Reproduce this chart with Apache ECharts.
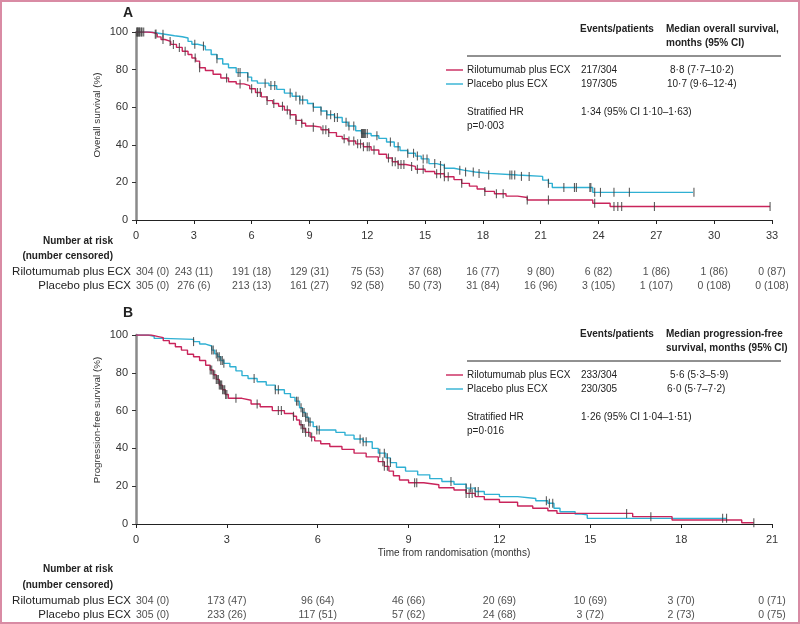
<!DOCTYPE html>
<html><head><meta charset="utf-8">
<script src="https://cdn.jsdelivr.net/npm/echarts@6/dist/echarts.min.js"></script>
<style>
html,body{margin:0;padding:0;background:#fff}
#c{position:absolute;left:0;top:0;width:800px;height:624px}
#f{position:absolute;left:0;top:0;width:800px;height:624px;box-sizing:border-box;border:2px solid #d98ba4;pointer-events:none}
</style>
</head><body><div id="c"></div><div id="f"></div>
<script>
// ---------- data ----------
const groups = ['Rilotumumab plus ECX', 'Placebo plus ECX'];

// Panel A: overall survival, [months, %]
const riloOS = [[0,100],[0.6,99.7],[0.9,99],[1.1,97.4],[1.3,96],[1.5,95],[1.8,93.4],[2.1,91.8],[2.4,89.8],[2.7,88],[2.9,86.2],[3.1,84.5],[3.3,81],[3.6,79.5],[4.0,77.5],[4.4,75.5],[4.8,73.5],[5.2,72.4],[5.6,71.5],[5.9,69.8],[6.2,67.8],[6.5,65.5],[6.8,63.5],[7.1,62],[7.4,60.5],[7.7,58.5],[8.0,56],[8.3,53],[8.6,51.5],[8.8,50],[9.2,49.4],[9.6,48],[10.0,46.5],[10.4,44.5],[10.7,43.2],[11.0,42],[11.4,40.5],[11.8,39],[12.2,37.2],[12.6,35],[13.0,33],[13.3,31],[13.6,29.5],[14.0,28.5],[14.5,27],[15.0,25.8],[15.5,24.6],[16.0,23],[16.5,21.5],[16.9,19.5],[17.3,18],[17.7,16.5],[18.1,15.2],[18.6,14],[19.2,12.7],[19.8,12],[20.3,10.6],[23.7,8.9],[24.6,7.2],[32.9,7.2]];
const placeboOS = [[0,100],[0.7,99.6],[1.0,98.8],[1.5,98],[2.0,97.5],[2.4,96.8],[2.7,95],[2.9,93.5],[3.2,92.5],[3.6,90.5],[3.9,88],[4.2,85.8],[4.5,83],[4.8,81],[5.2,78.4],[5.8,76],[6.0,74],[6.3,72.8],[6.9,71.5],[7.3,69.5],[7.7,67.5],[8.1,65.8],[8.5,63.8],[8.9,62],[9.2,60],[9.6,58],[9.9,56],[10.3,54.5],[10.7,52],[11.0,50],[11.4,47.5],[11.7,46],[12.2,44.8],[12.6,43.4],[13.0,41.5],[13.4,39],[13.7,37],[14.1,35.5],[14.5,34],[14.8,32.5],[15.2,30],[15.6,29],[16.0,27.5],[16.5,26.5],[17.0,25.5],[17.6,24.8],[18.3,23.9],[19.8,23.2],[21.1,21.2],[21.4,19.5],[21.6,17.3],[23.7,14.7],[28.9,14.7]];
const riloOSCensor = [0.05,0.1,0.15,0.2,0.3,1.04,1.4,1.77,1.94,2.25,2.55,3.07,3.3,4.7,5.4,6.0,6.3,6.45,6.8,7.15,7.6,7.85,8.0,8.3,8.6,9.2,9.7,9.85,10.0,10.8,11.05,11.3,11.5,11.65,11.8,12.0,12.1,12.35,13.1,13.3,13.45,13.6,13.75,13.9,14.3,14.6,14.9,15.6,15.8,16.0,16.2,16.9,18.1,18.7,19.05,20.3,21.4,23.8,24.8,25.0,25.2,26.9,32.9];
const placeboOSCensor = [0.05,0.1,0.2,0.3,0.4,1.0,1.4,3.05,3.5,4.2,5.3,5.4,5.8,6.7,7.0,7.2,8.0,8.3,8.5,8.65,9.2,9.6,9.9,10.1,10.3,10.45,10.9,11.05,11.3,11.7,11.75,11.8,11.85,11.9,12.0,12.5,13.2,13.6,14.1,14.4,14.6,14.9,15.1,15.5,15.8,16.0,16.8,17.1,17.5,17.8,18.3,19.4,19.5,19.65,20.0,20.4,21.4,22.2,22.75,22.85,23.55,23.6,23.8,24.1,24.8,25.6,28.95];

// Panel B: progression-free survival, [months, %]
const riloPFS = [[0,100],[0.5,99.3],[0.7,98.6],[0.9,97],[1.1,95.5],[1.3,93.8],[1.5,92],[1.7,89.8],[1.9,88.5],[2.1,86.5],[2.3,84],[2.45,81.5],[2.55,79],[2.65,76.5],[2.75,73.5],[2.85,71],[2.95,68.5],[3.05,66.5],[3.5,65.5],[3.8,63.5],[4.1,62],[4.5,60],[4.9,58.5],[5.2,57],[5.3,55],[5.4,52.5],[5.5,50.5],[5.6,48.5],[5.75,46],[5.9,44],[6.1,42.5],[6.4,41],[6.8,39.5],[7.2,37.5],[7.6,35.5],[8.0,33],[8.2,30.5],[8.35,28],[8.5,25.5],[8.7,23.3],[9.0,21.8],[9.5,20.8],[10.0,19.2],[10.5,18],[10.9,16.2],[11.2,14.5],[11.5,13],[12.0,11.5],[12.6,9.5],[13.1,8.3],[13.6,7],[13.9,5.6],[16.4,3.9],[17.7,2.1],[20.0,0.7],[20.4,0.7]];
const placeboPFS = [[0,100],[0.4,99.3],[0.6,98.2],[0.9,97.7],[1.9,96.5],[2.1,95.2],[2.3,94.2],[2.5,92],[2.6,90],[2.7,88.5],[2.8,86.5],[2.9,85],[3.1,83.2],[3.3,81],[3.5,78.5],[3.7,77],[4.0,75.3],[4.3,73.5],[4.6,71],[4.9,69],[5.1,67],[5.25,65],[5.4,61.5],[5.5,59],[5.6,56.5],[5.7,54],[5.85,51.5],[5.97,49.7],[6.6,48.5],[6.9,47],[7.2,45],[7.5,43.5],[7.8,40],[8.0,37.5],[8.25,35],[8.4,32.5],[8.6,30],[8.9,28],[9.3,26],[9.7,24],[10.1,22.5],[10.5,21],[10.9,19],[11.2,17.2],[11.5,15.7],[12.0,14.5],[12.6,13.5],[13.2,12.3],[13.6,11],[13.8,8.3],[14.0,6.5],[14.5,5.2],[14.7,4.8],[14.9,3],[19.5,3]];
const riloPFSCensor = [2.45,2.5,2.55,2.6,2.65,2.68,2.72,2.75,2.78,2.8,2.83,2.86,2.9,2.93,2.96,3.0,3.3,4.0,4.7,4.8,5.2,5.45,5.5,5.55,5.6,5.7,5.8,8.15,8.2,8.3,9.2,9.27,10.9,11.0,11.1,16.2,17.0,20.4];
const placeboPFSCensor = [1.9,2.5,2.55,2.65,2.7,2.75,2.8,2.85,2.9,3.9,4.6,4.7,5.3,5.35,5.45,5.5,5.55,5.6,5.65,5.7,5.75,5.97,6.05,7.4,7.5,7.6,8.05,8.2,8.3,8.4,10.4,10.9,11.05,11.2,11.3,13.55,13.65,13.76,19.37,19.5];

// Number at risk (number censored)
const riskTimesA = [0,3,6,9,12,15,18,21,24,27,30,33];
const riloAtRiskA = [304,243,191,129,75,37,16,9,6,1,1,0];
const riloCensA = [0,11,18,31,53,68,77,80,82,86,86,87];
const placeboAtRiskA = [305,276,213,161,92,50,31,16,3,1,0,0];
const placeboCensA = [0,6,13,27,58,73,84,96,105,107,108,108];
const riskTimesB = [0,3,6,9,12,15,18,21];
const riloAtRiskB = [304,173,96,46,20,10,3,0];
const riloCensB = [0,47,64,66,69,69,70,71];
const placeboAtRiskB = [305,233,117,57,24,3,2,0];
const placeboCensB = [0,26,51,62,68,72,73,75];

// Summary table text
const tableA = {
  head1: ['Events/patients', 'Median overall survival,', 'months (95% CI)'],
  rows: [['217/304', '8·8 (7·7–10·2)'], ['197/305', '10·7 (9·6–12·4)']],
  hr: '1·34 (95% CI 1·10–1·63)', p: 'p=0·003'
};
const tableB = {
  head1: ['Events/patients', 'Median progression-free', 'survival, months (95% CI)'],
  rows: [['233/304', '5·6 (5·3–5·9)'], ['230/305', '6·0 (5·7–7·2)']],
  hr: '1·26 (95% CI 1·04–1·51)', p: 'p=0·016'
};

// ---------- styling ----------
const FONT = 'Liberation Sans, Arial, sans-serif';
const RED = '#c9245b', BLUE = '#2fb0d3', CENS = '#404040', TXT = '#222';

function valueAt(curve, t) {
  let v = curve[0][1];
  for (const p of curve) { if (p[0] <= t + 1e-9) v = p[1]; else break; }
  return v;
}
function censorData(curve, times) { return times.map(t => [t, valueAt(curve, t)]); }

const chart = echarts.init(document.getElementById('c'), null, {renderer: 'canvas'});

const gridL = 136, gridR = 28;
const grids = [
  {left: gridL, right: gridR, top: 32, height: 188},
  {left: gridL, right: gridR, top: 265, height: 28},
  {left: gridL, right: gridR, top: 335, height: 189},
  {left: gridL, right: gridR, top: 594, height: 28}
];

function plotX(gi, max, name) {
  return {
    gridIndex: gi, type: 'value', min: 0, max: max, interval: 3,
    axisLine: {show: true, lineStyle: {color: '#222', width: 1}},
    axisTick: {show: true, length: 4, lineStyle: {color: '#222'}},
    axisLabel: {fontFamily: FONT, fontSize: 11, color: '#333', margin: 10},
    splitLine: {show: false},
    name: name || '', nameLocation: 'middle', nameGap: 24,
    nameTextStyle: {fontFamily: FONT, fontSize: 10, color: '#333'}
  };
}
function plotY(gi) {
  return {
    gridIndex: gi, type: 'value', min: 0, max: 100, interval: 20,
    axisLine: {show: true, lineStyle: {color: '#8a8a8a', width: 2.5}},
    axisTick: {show: true, length: 4, lineStyle: {color: '#333'}},
    axisLabel: {fontFamily: FONT, fontSize: 11, color: '#333', margin: 8},
    splitLine: {show: false}
  };
}
function riskX(gi, max) {
  return {gridIndex: gi, type: 'value', min: 0, max: max, show: false};
}
function riskY(gi) {
  return {
    gridIndex: gi, type: 'category', data: [groups[1], groups[0]],
    axisLine: {show: false}, axisTick: {show: false}, splitLine: {show: false},
    axisLabel: {interval: 0, hideOverlap: false, fontFamily: FONT, fontSize: 11.5, color: TXT, margin: 5}
  };
}

function kmLine(name, data, color, gi) {
  return {
    name: name, type: 'line', step: 'end', xAxisIndex: gi, yAxisIndex: gi,
    data: data, showSymbol: false, symbol: 'none',
    lineStyle: {color: color, width: 1.4}, z: 3, silent: true
  };
}
function censors(data, gi) {
  return {
    type: 'scatter', xAxisIndex: gi, yAxisIndex: gi, data: data,
    symbol: 'rect', symbolSize: [1.1, 9],
    itemStyle: {color: CENS, opacity: 0.85}, z: 4, silent: true
  };
}
function riskSeries(gi, times, atRisk, cens, row) {
  return {
    type: 'scatter', xAxisIndex: gi, yAxisIndex: gi, symbolSize: 1,
    itemStyle: {color: 'rgba(0,0,0,0)'}, silent: true,
    data: times.map((t, i) => ({value: [t, row], label: {align: i === 0 ? 'left' : 'center'}})),
    label: {
      show: true, position: 'inside', fontFamily: FONT, fontSize: 10.5, color: TXT,
      formatter: p => atRisk[p.dataIndex] + ' (' + cens[p.dataIndex] + ')'
    }
  };
}

function txt(x, y, s, opt) {
  opt = opt || {};
  return {
    type: 'text', x: x, y: y, silent: true, rotation: opt.rot || 0,
    style: {
      text: s, fill: opt.fill || TXT,
      font: (opt.bold ? 'bold ' : '') + (opt.size || 10) + 'px ' + FONT,
      align: opt.align || 'left', verticalAlign: 'middle'
    }
  };
}
function hline(x1, x2, y, color, w) {
  return {type: 'line', silent: true, shape: {x1: x1, y1: y, x2: x2, y2: y}, style: {stroke: color, lineWidth: w}};
}
function summary(tb, y0) {
  const g = [];
  g.push(txt(580, y0, tb.head1[0], {bold: true}));
  g.push(txt(666, y0, tb.head1[1], {bold: true}));
  g.push(txt(666, y0 + 14, tb.head1[2], {bold: true}));
  g.push(hline(467, 781, y0 + 27, '#222', 1));
  g.push(hline(446, 463, y0 + 41, RED, 1.4));
  g.push(txt(467, y0 + 41, groups[0]));
  g.push(txt(581, y0 + 41, tb.rows[0][0]));
  g.push(txt(670, y0 + 41, tb.rows[0][1]));
  g.push(hline(446, 463, y0 + 55, BLUE, 1.4));
  g.push(txt(467, y0 + 55, groups[1]));
  g.push(txt(581, y0 + 55, tb.rows[1][0]));
  g.push(txt(667, y0 + 55, tb.rows[1][1]));
  g.push(txt(467, y0 + 83, 'Stratified HR'));
  g.push(txt(467, y0 + 97, tb.p));
  g.push(txt(581, y0 + 83, tb.hr));
  return g;
}

const graphics = [].concat(
  [txt(123, 13, 'A', {bold: true, size: 14}), txt(123, 313, 'B', {bold: true, size: 14})],
  [txt(97, 115, 'Overall survival (%)', {size: 9.8, rot: Math.PI / 2, align: 'center', fill: '#333'}),
   txt(97, 420, 'Progression-free survival (%)', {size: 9.8, rot: Math.PI / 2, align: 'center', fill: '#333'})],
  summary(tableA, 29),
  summary(tableB, 334),
  [txt(113, 241, 'Number at risk', {bold: true, align: 'right'}),
   txt(113, 256, '(number censored)', {bold: true, align: 'right'}),
   txt(113, 569, 'Number at risk', {bold: true, align: 'right'}),
   txt(113, 585, '(number censored)', {bold: true, align: 'right'})]
);

chart.setOption({
  animation: false,
  backgroundColor: '#fff',
  grid: grids,
  xAxis: [plotX(0, 33), riskX(1, 33), plotX(2, 21, 'Time from randomisation (months)'), riskX(3, 21)],
  yAxis: [plotY(0), riskY(1), plotY(2), riskY(3)],
  series: [
    kmLine(groups[1], placeboOS, BLUE, 0),
    kmLine(groups[0], riloOS, RED, 0),
    censors(censorData(placeboOS, placeboOSCensor), 0),
    censors(censorData(riloOS, riloOSCensor), 0),
    riskSeries(1, riskTimesA, riloAtRiskA, riloCensA, 1),
    riskSeries(1, riskTimesA, placeboAtRiskA, placeboCensA, 0),
    kmLine(groups[1], placeboPFS, BLUE, 2),
    kmLine(groups[0], riloPFS, RED, 2),
    censors(censorData(placeboPFS, placeboPFSCensor), 2),
    censors(censorData(riloPFS, riloPFSCensor), 2),
    riskSeries(3, riskTimesB, riloAtRiskB, riloCensB, 1),
    riskSeries(3, riskTimesB, placeboAtRiskB, placeboCensB, 0)
  ],
  graphic: graphics
});
</script></body></html>
